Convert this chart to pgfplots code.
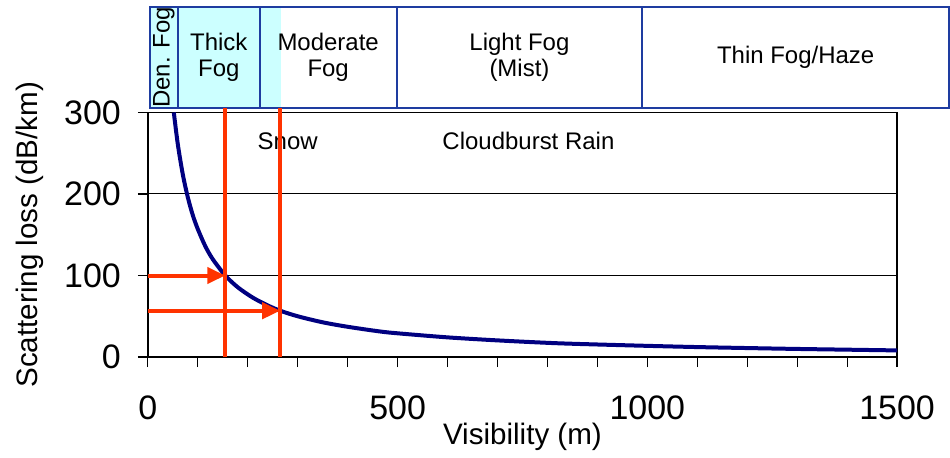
\documentclass[border=0pt]{standalone}
\usepackage{fontspec}
\setmainfont{Liberation Sans}
\usepackage{pgfplots}
\usepackage{pgfplotstable}
\pgfplotsset{compat=1.18}
\usetikzlibrary{arrows.meta}
\definecolor{curve}{RGB}{0,0,128}
\definecolor{redline}{RGB}{255,51,0}
\definecolor{bandline}{RGB}{30,60,160}
\definecolor{bandfill}{RGB}{204,255,255}

% scattering loss vs visibility
\pgfplotstableread{
V loss
52 300
60 261
70 224
80 196
90 174
100 157
115 136
130 120
155 100
180 85.6
210 72.9
240 63.3
265 56.8
300 50
350 42.6
400 37.1
464 31.4
500 29.1
600 24.1
700 20.4
800 17.4
864 16
1000 13.7
1100 12.2
1200 11.0
1300 9.9
1400 9.0
1500 8.1
}\losstable

\begin{document}
\begin{tikzpicture}
\begin{axis}[
  scale only axis, width=375pt, height=122.4pt,
  xmin=0, xmax=1500, ymin=0, ymax=300,
  xtick={0,500,1000,1500}, minor xtick={100,200,...,1400},
  ytick={0,100,200,300},
  xtick pos=bottom, ytick pos=left,
  tick align=outside, major tick length=5pt, minor tick length=5pt,
  tick style={black, line width=0.6pt},
  ymajorgrids, major grid style={black, line width=0.5pt},
  axis line style={line width=0.7pt},
  clip=false,
  /pgf/number format/assume math mode=true,
  /pgf/number format/set thousands separator={},
  tick label style={font=\fontsize{17}{17}\selectfont},
  xticklabel style={yshift=-11pt},
  yticklabel style={xshift=-5pt},
  label style={font=\fontsize{14.8}{14.8}\selectfont},
  xlabel={Visibility (m)}, ylabel={Scattering loss (dB/km)},
  xlabel style={at={(axis description cs:0.5,0)}, anchor=center, yshift=-40pt},
  ylabel style={at={(axis description cs:0,0.5)}, anchor=center, yshift=59pt},
]
% top band of fog classes
\fill[bandfill] (axis cs:4,305.8) rectangle (axis cs:266,429.5);
\draw[bandline, line width=1pt] (axis cs:4,305.8) rectangle (axis cs:1604,429.5);
\draw[bandline, line width=1pt] (axis cs:60,305.8) -- (axis cs:60,429.5);
\draw[bandline, line width=1pt] (axis cs:224,305.8) -- (axis cs:224,429.5);
\draw[bandline, line width=1pt] (axis cs:498,305.8) -- (axis cs:498,429.5);
\draw[bandline, line width=1pt] (axis cs:990,305.8) -- (axis cs:990,429.5);
\node[rotate=90, font=\fontsize{12}{12}\selectfont] at (axis cs:32,367.6) {Den. Fog};
\node[align=center, font=\fontsize{12}{13}\selectfont] at (axis cs:142,367.6) {Thick\\Fog};
\node[align=center, font=\fontsize{12}{13}\selectfont] at (axis cs:361,367.6) {Moderate\\Fog};
\node[align=center, font=\fontsize{12}{13}\selectfont] at (axis cs:744,367.6) {Light Fog\\(Mist)};
\node[font=\fontsize{12}{13}\selectfont] at (axis cs:1297,367.6) {Thin Fog/Haze};

\node[font=\fontsize{12}{12}\selectfont] at (axis cs:280,265) {Snow};
\node[font=\fontsize{12}{12}\selectfont] at (axis cs:762,265) {Cloudburst Rain};

\addplot[curve, line width=2pt, smooth] table[x=V, y=loss] {\losstable};

\addplot[redline, line width=2pt] coordinates {(155,0) (155,305.8)};
\addplot[redline, line width=2pt] coordinates {(265,0) (265,305.8)};
\addplot[redline, line width=2pt, -{Triangle[length=9pt,width=8pt]}] coordinates {(0,100) (155,100)};
\addplot[redline, line width=2pt, -{Triangle[length=9pt,width=8pt]}] coordinates {(0,56.8) (265,56.8)};

\path (axis cs:-296,-118) rectangle (axis cs:1604,438);
\end{axis}
\end{tikzpicture}
\end{document}
